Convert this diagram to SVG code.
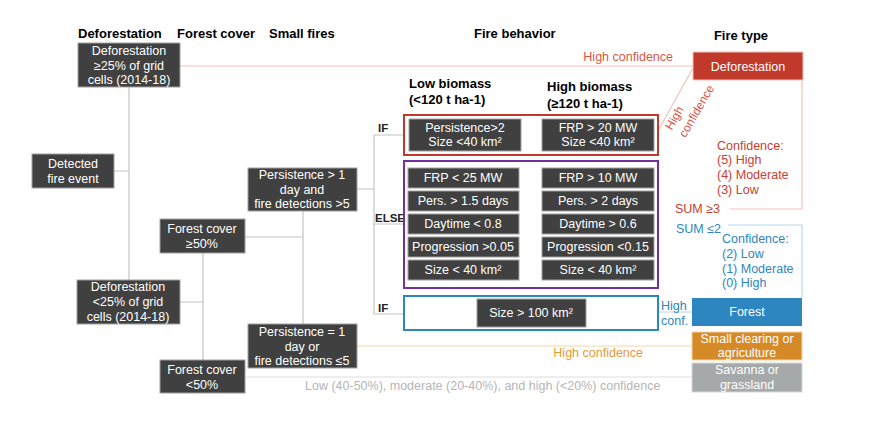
<svg xmlns="http://www.w3.org/2000/svg" width="883" height="436" viewBox="0 0 883 436">
<style>
text{font-family:"Liberation Sans",Arial,sans-serif;font-size:12.5px}
.h{font-weight:bold;font-size:13px;fill:#000}
.n rect{fill:#404040;stroke:#a0a0a0;stroke-width:1}
.n text{fill:#fff;text-anchor:middle}
.c{fill:none;stroke:#c4c4c4;stroke-width:1.2}
.lbl{font-size:11.5px;font-weight:bold;fill:#222}
.red{fill:#c9402f}
.blue{fill:#2e86c1}
</style>
<rect width="883" height="436" fill="#fff"/>
<!-- headers -->
<text class="h" x="78" y="38">Deforestation</text>
<text class="h" x="177" y="38">Forest cover</text>
<text class="h" x="269" y="38">Small fires</text>
<text class="h" x="474" y="38">Fire behavior</text>
<text class="h" x="741" y="40" text-anchor="middle">Fire type</text>
<text class="h" x="409" y="88">Low biomass</text>
<text class="h" x="409" y="104">(&lt;120 t ha-1)</text>
<text class="h" x="547" y="91">High biomass</text>
<text class="h" x="547" y="108">(≥120 t ha-1)</text>

<!-- connectors -->
<g id="connectors">
<path class="c" d="M129 87V280M114 171H129M180 302H203M203 253V360M245 237H303M303 211V324M357 189H374M374 135V314M374 135H404M374 224H404M374 314H404"/>
<path d="M180 66H693" stroke="#f4c2bb" stroke-width="1.2" fill="none"/>
<path d="M658 131L693 68" stroke="#f4c2bb" stroke-width="1.2" fill="none"/>
<path d="M802 80V209H730" stroke="#f4c2bb" stroke-width="1.2" fill="none"/>
<path d="M728 225H802V298" stroke="#b7d7ee" stroke-width="1.2" fill="none"/>
<path d="M658 312H692" stroke="#b7d7ee" stroke-width="1.2" fill="none"/>
<path d="M357 346H692" stroke="#fae3c6" stroke-width="1.5" fill="none"/>
<path d="M245 377H692" stroke="#dedede" stroke-width="1.2" fill="none"/>
<text class="lbl" x="378" y="132">IF</text>
<text class="lbl" x="375" y="222">ELSE</text>
<text class="lbl" x="378" y="312">IF</text>
<text x="673" y="61" text-anchor="end" fill="#d8574a">High confidence</text>
<text transform="translate(678,120) rotate(-60)" text-anchor="middle" style="font-size:12px;fill:#d8574a">High</text>
<text transform="translate(700,113) rotate(-60)" text-anchor="middle" style="font-size:12px;fill:#d8574a">confidence</text>
<text x="675" y="213" class="red">SUM ≥3</text>
<text x="676" y="233" class="blue">SUM ≤2</text>
<text x="661" y="310" class="blue">High</text>
<text x="661" y="325" class="blue">conf.</text>
<text x="643" y="357" text-anchor="end" fill="#e59a3a">High confidence</text>
<text x="305" y="390" fill="#b5b5b5">Low (40-50%), moderate (20-40%), and high (&lt;20%) confidence</text>
</g>

<!-- left tree nodes -->
<g id="n-defor-high" class="n"><rect x="78" y="43" width="102" height="44"/><text x="129" y="55">Deforestation</text><text x="129" y="70">≥25% of grid</text><text x="129" y="84">cells (2014-18)</text></g>
<g id="n-detected" class="n"><rect x="32" y="154" width="82" height="34"/><text x="73" y="168">Detected</text><text x="73" y="183">fire event</text></g>
<g id="n-defor-low" class="n"><rect x="77" y="280" width="103" height="44"/><text x="128" y="291">Deforestation</text><text x="128" y="306">&lt;25% of grid</text><text x="128" y="321">cells (2014-18)</text></g>
<g id="n-forest-high" class="n"><rect x="160" y="219" width="85" height="34"/><text x="202" y="233">Forest cover</text><text x="202" y="248">≥50%</text></g>
<g id="n-forest-low" class="n"><rect x="160" y="360" width="85" height="33"/><text x="202" y="374">Forest cover</text><text x="202" y="389">&lt;50%</text></g>
<g id="n-pers-high" class="n"><rect x="248" y="168" width="109" height="43"/><text x="302" y="179">Persistence &gt; 1</text><text x="302" y="194">day and</text><text x="302" y="208">fire detections &gt;5</text></g>
<g id="n-pers-low" class="n"><rect x="248" y="324" width="109" height="44"/><text x="302" y="336">Persistence = 1</text><text x="302" y="351">day or</text><text x="302" y="365">fire detections ≤5</text></g>

<!-- fire behavior -->
<g id="g-if-red">
<rect x="404" y="115" width="254" height="40" fill="none" stroke="#c0392b" stroke-width="2"/>
<g class="n"><rect x="409" y="119" width="112" height="32"/><text x="465" y="132">Persistence&gt;2</text><text x="465" y="146">Size &lt;40 km²</text></g>
<g class="n"><rect x="542" y="119" width="112" height="32"/><text x="598" y="132">FRP &gt; 20 MW</text><text x="598" y="146">Size &lt;40 km²</text></g>
</g>
<g id="g-else">
<rect x="404" y="161" width="254" height="127" fill="none" stroke="#7030a0" stroke-width="2"/>
<g class="n">
<rect x="408" y="168" width="111" height="20"/><text x="463" y="182">FRP &lt; 25 MW</text>
<rect x="408" y="191" width="111" height="20"/><text x="463" y="205">Pers. &gt; 1.5 days</text>
<rect x="408" y="214" width="111" height="20"/><text x="463" y="228">Daytime &lt; 0.8</text>
<rect x="408" y="237" width="111" height="20"/><text x="463" y="251">Progression &gt;0.05</text>
<rect x="408" y="260" width="111" height="20"/><text x="463" y="274">Size &lt; 40 km²</text>
<rect x="542" y="168" width="112" height="20"/><text x="598" y="182">FRP &gt; 10 MW</text>
<rect x="542" y="191" width="112" height="20"/><text x="598" y="205">Pers. &gt; 2 days</text>
<rect x="542" y="214" width="112" height="20"/><text x="598" y="228">Daytime &gt; 0.6</text>
<rect x="542" y="237" width="112" height="20"/><text x="598" y="251">Progression &lt;0.15</text>
<rect x="542" y="260" width="112" height="20"/><text x="598" y="274">Size &lt; 40 km²</text>
</g>
</g>
<g id="g-if-blue">
<rect x="404" y="296" width="254" height="34" fill="none" stroke="#2e86c1" stroke-width="2"/>
<g class="n"><rect x="477" y="299" width="109" height="28"/><text x="531" y="317">Size &gt; 100 km²</text></g>
</g>

<!-- confidence text -->
<g id="conf-red" class="red"><text x="717" y="150">Confidence:</text><text x="717" y="164">(5) High</text><text x="717" y="179">(4) Moderate</text><text x="717" y="194">(3) Low</text></g>
<g id="conf-blue" class="blue"><text x="722" y="243">Confidence:</text><text x="722" y="258">(2) Low</text><text x="722" y="273">(1) Moderate</text><text x="722" y="287">(0) High</text></g>

<!-- fire types -->
<g id="t-defor"><rect x="693" y="52" width="110" height="28" fill="#c0392b" stroke="#f4c2bb"/><text x="748" y="71" fill="#fff" text-anchor="middle">Deforestation</text></g>
<g id="t-forest"><rect x="692" y="298" width="110" height="28" fill="#2e86c1"/><text x="747" y="316" fill="#fff" text-anchor="middle">Forest</text></g>
<g id="t-small"><rect x="692" y="332" width="110" height="28" fill="#d68a27" stroke="#f6d3a6"/><text x="747" y="343" fill="#fff" text-anchor="middle">Small clearing or</text><text x="747" y="357" fill="#fff" text-anchor="middle">agriculture</text></g>
<g id="t-savanna"><rect x="692" y="363" width="110" height="29" fill="#a6a9aa" stroke="#d5d7d8"/><text x="747" y="374" fill="#fff" text-anchor="middle">Savanna or</text><text x="747" y="389" fill="#fff" text-anchor="middle">grassland</text></g>
</svg>
